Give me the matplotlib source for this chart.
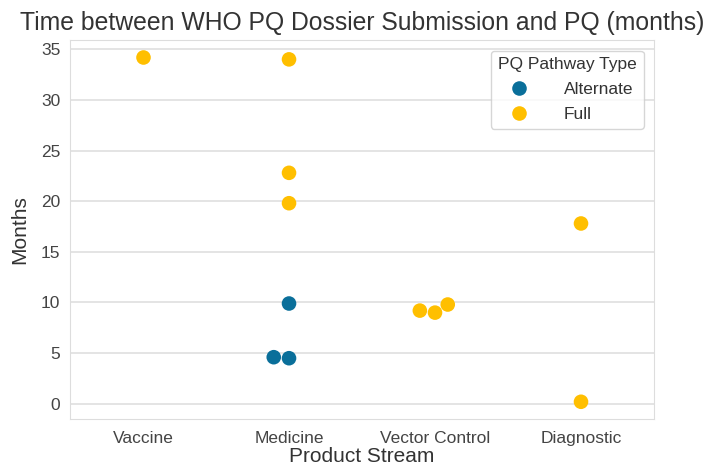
import matplotlib
matplotlib.use('Agg')
import matplotlib.pyplot as plt
import seaborn as sns
import pandas as pd

streams = ['Vaccine', 'Medicine', 'Medicine', 'Medicine', 'Medicine', 'Medicine', 'Medicine',
           'Vector Control', 'Vector Control', 'Vector Control', 'Diagnostic', 'Diagnostic']
months = [34.2, 34.0, 22.8, 19.8, 9.9, 4.6, 4.5, 9.2, 9.0, 9.8, 17.8, 0.2]
pathway = ['Full', 'Full', 'Full', 'Full', 'Alternate', 'Alternate', 'Alternate',
           'Full', 'Full', 'Full', 'Full', 'Full']
order = ['Vaccine', 'Medicine', 'Vector Control', 'Diagnostic']
hue_order = ['Alternate', 'Full']
palette = {'Alternate': '#0a6f9a', 'Full': '#ffbf00'}

df = pd.DataFrame({'Product Stream': streams, 'Months': months, 'PQ Pathway Type': pathway})

sns.set_style('whitegrid', {'grid.color': '#e2e2e2', 'axes.edgecolor': '#dddddd'})
plt.rcParams['font.family'] = ['Liberation Sans', 'DejaVu Sans']
plt.rcParams['text.color'] = '#333333'
plt.rcParams['axes.labelcolor'] = '#333333'
plt.rcParams['xtick.color'] = '#444444'
plt.rcParams['ytick.color'] = '#444444'
plt.rcParams['grid.linewidth'] = 1.3

fig = plt.figure(figsize=(7.19, 4.72), dpi=100)
ax = fig.add_axes([0.0974, 0.1123, 0.8122, 0.8027])
sns.swarmplot(data=df, x='Product Stream', y='Months', hue='PQ Pathway Type',
              order=order, hue_order=hue_order, palette=palette, size=10.5, ax=ax)
ax.set_title('Time between WHO PQ Dossier Submission and PQ (months)', fontsize=17.8, pad=7)
ax.set_xlabel('Product Stream', fontsize=15, labelpad=1)
ax.set_ylabel('Months', fontsize=15, labelpad=8)
ax.tick_params(axis='x', labelsize=12.5, pad=5)
ax.tick_params(axis='y', labelsize=12.5)
ax.set_yticks([0, 5, 10, 15, 20, 25, 30, 35])
ax.set_ylim(-1.5, 35.9)
ax.legend(title='PQ Pathway Type', loc='upper right', fontsize=12.5, title_fontsize=12.5,
          markerscale=1.0, handletextpad=1.6, labelspacing=0.55, borderaxespad=0.6)

fig.savefig('out.png', dpi=100)
